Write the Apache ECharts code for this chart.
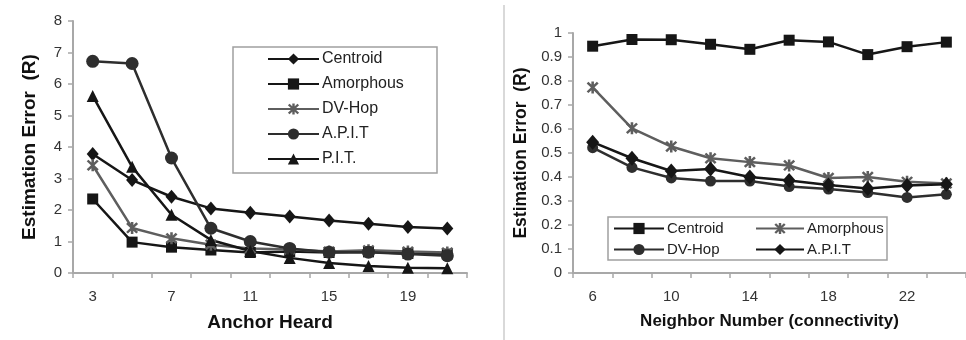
<!DOCTYPE html>
<html><head><meta charset="utf-8">
<script src="https://cdn.jsdelivr.net/npm/echarts@6/dist/echarts.min.js"></script>
<style>html,body{margin:0;padding:0;background:#fff}#c{width:966px;height:340px}</style>
</head><body><div id="c"></div>
<script>
// ---- Data ----
const leftCats = ['3','5','7','9','11','13','15','17','19','21'];
const leftCentroid  = [3.78, 2.95, 2.42, 2.05, 1.91, 1.79, 1.67, 1.56, 1.46, 1.41];
const leftAmorphous = [2.35, 0.98, 0.82, 0.73, 0.65, 0.68, 0.65, 0.67, 0.62, 0.60];
const leftDVHop     = [3.42, 1.43, 1.10, 0.90, 0.78, 0.75, 0.68, 0.72, 0.68, 0.65];
const leftAPIT      = [6.72, 6.65, 3.65, 1.42, 1.00, 0.78, 0.66, 0.66, 0.60, 0.55];
const leftPIT       = [5.62, 3.37, 1.85, 1.05, 0.70, 0.48, 0.32, 0.22, 0.17, 0.15];

const rightCats = ['6','8','10','12','14','16','18','20','22','24'];
const rightCentroid  = [0.945, 0.973, 0.972, 0.953, 0.932, 0.970, 0.963, 0.910, 0.943, 0.962];
const rightAmorphous = [0.773, 0.603, 0.527, 0.478, 0.462, 0.448, 0.396, 0.400, 0.380, 0.373];
const rightDVHop     = [0.522, 0.440, 0.396, 0.383, 0.383, 0.360, 0.350, 0.335, 0.315, 0.328];
const rightAPIT      = [0.545, 0.478, 0.425, 0.433, 0.400, 0.385, 0.367, 0.352, 0.365, 0.370];

const leftYTicks = {min: 0, max: 8, interval: 1};
const rightYTicks = {min: 0, max: 1, interval: 0.1};

// ---- Styles ----
const FONT = '"Liberation Sans", Arial, sans-serif';
const BLACK = '#161616';
const GRAY = '#5e5e5e';
const AXIS = '#a8a8a8';
const STAR = 'path://M-1,-5L1,-5L1,5L-1,5Z M-3.3,-4.7L4.7,3.3L3.3,4.7L-4.7,-3.3Z M3.3,-4.7L4.7,-3.3L-3.3,4.7L-4.7,3.3Z';

function xAx(gi, data, name, nameSize) {
  return {
    type: 'category', gridIndex: gi, data: data, boundaryGap: true,
    axisLine: {lineStyle: {color: AXIS, width: 2}},
    axisTick: {show: true, interval: 0, length: 5, lineStyle: {color: AXIS, width: 1.5}},
    axisLabel: {interval: 1, margin: 16, fontSize: 15, color: '#333', fontFamily: FONT},
    name: name, nameLocation: 'middle', nameGap: 40,
    nameTextStyle: {fontSize: nameSize, fontWeight: 'bold', color: '#111', fontFamily: FONT},
    splitLine: {show: false}
  };
}
function yAx(gi, t, name, nameSize, gap, fmt) {
  return {
    type: 'value', gridIndex: gi, min: t.min, max: t.max, interval: t.interval,
    axisLine: {show: true, lineStyle: {color: AXIS, width: 2}},
    axisTick: {show: true, length: 5, lineStyle: {color: AXIS, width: 1.5}},
    axisLabel: {margin: 11, fontSize: 15, color: '#333', fontFamily: FONT, formatter: fmt},
    splitLine: {show: false},
    name: name, nameLocation: 'middle', nameGap: gap,
    nameTextStyle: {fontSize: nameSize, fontWeight: 'bold', color: '#111', fontFamily: FONT}
  };
}
function ser(name, gi, data, color, symbol, size) {
  return {
    type: 'line', name: name, xAxisIndex: gi, yAxisIndex: gi, data: data,
    symbol: symbol, symbolSize: size, showAllSymbol: true,
    lineStyle: {color: color, width: 2.5},
    itemStyle: {color: color, borderWidth: 0},
    emphasis: {disabled: true}, animation: false
  };
}

const chart = echarts.init(document.getElementById('c'), null, {renderer: 'canvas'});
chart.setOption({
  animation: false,
  backgroundColor: '#fff',
  grid: [
    {left: 73, top: 21, width: 394, bottom: 67},
    {left: 573, top: 33, width: 398, bottom: 67}
  ],
  xAxis: [xAx(0, leftCats, 'Anchor Heard', 19), xAx(1, rightCats, 'Neighbor Number (connectivity)', 17)],
  yAxis: [
    yAx(0, leftYTicks, 'Estimation Error  (R)', 19, 34, v => String(v)),
    yAx(1, rightYTicks, 'Estimation Error  (R)', 17.5, 43, v => String(Math.round(v * 10) / 10))
  ],
  legend: [
    {
      data: ['Centroid', 'Amorphous', 'DV-Hop', 'A.P.I.T', 'P.I.T.'],
      orient: 'vertical', left: 267, top: 51, itemWidth: 51, itemHeight: 14, itemGap: 9,
      padding: 0, selectedMode: false,
      textStyle: {fontSize: 16, color: '#222', fontFamily: FONT, padding: [0, 0, 0, -2]}
    },
    {
      data: ['R:Centroid', 'R:DV-Hop'],
      orient: 'vertical', left: 613, top: 221, itemWidth: 50, itemHeight: 14, itemGap: 6,
      padding: 0, selectedMode: false, formatter: n => n.replace('R:', ''),
      textStyle: {fontSize: 15, color: '#222', fontFamily: FONT, padding: [0, 0, 0, -2]}
    },
    {
      data: ['R:Amorphous', 'R:A.P.I.T'],
      orient: 'vertical', left: 755, top: 221, itemWidth: 48, itemHeight: 14, itemGap: 6,
      padding: 0, selectedMode: false, formatter: n => n.replace('R:', ''),
      textStyle: {fontSize: 15, color: '#222', fontFamily: FONT, padding: [0, 0, 0, -2]}
    }
  ],
  graphic: [
    {type: 'rect', shape: {x: 233, y: 47, width: 204, height: 126}, style: {fill: 'none', stroke: '#a0a0a0', lineWidth: 1.5}, z: 1},
    {type: 'rect', shape: {x: 608, y: 217, width: 279, height: 43}, style: {fill: 'none', stroke: '#a0a0a0', lineWidth: 1.5}, z: 1},
    {type: 'line', shape: {x1: 504, y1: 5, x2: 504, y2: 340}, style: {stroke: '#cccccc', lineWidth: 1.5}}
  ],
  series: [
    ser('Centroid', 0, leftCentroid, BLACK, 'diamond', [12, 14]),
    ser('Amorphous', 0, leftAmorphous, BLACK, 'rect', 11),
    ser('DV-Hop', 0, leftDVHop, GRAY, STAR, 12),
    ser('A.P.I.T', 0, leftAPIT, '#2e2e2e', 'circle', 13),
    ser('P.I.T.', 0, leftPIT, BLACK, 'triangle', 12),
    ser('R:Centroid', 1, rightCentroid, BLACK, 'rect', 11),
    ser('R:Amorphous', 1, rightAmorphous, GRAY, STAR, 12),
    ser('R:DV-Hop', 1, rightDVHop, '#2e2e2e', 'circle', 11),
    ser('R:A.P.I.T', 1, rightAPIT, BLACK, 'diamond', [13, 15])
  ]
});
</script></body></html>
